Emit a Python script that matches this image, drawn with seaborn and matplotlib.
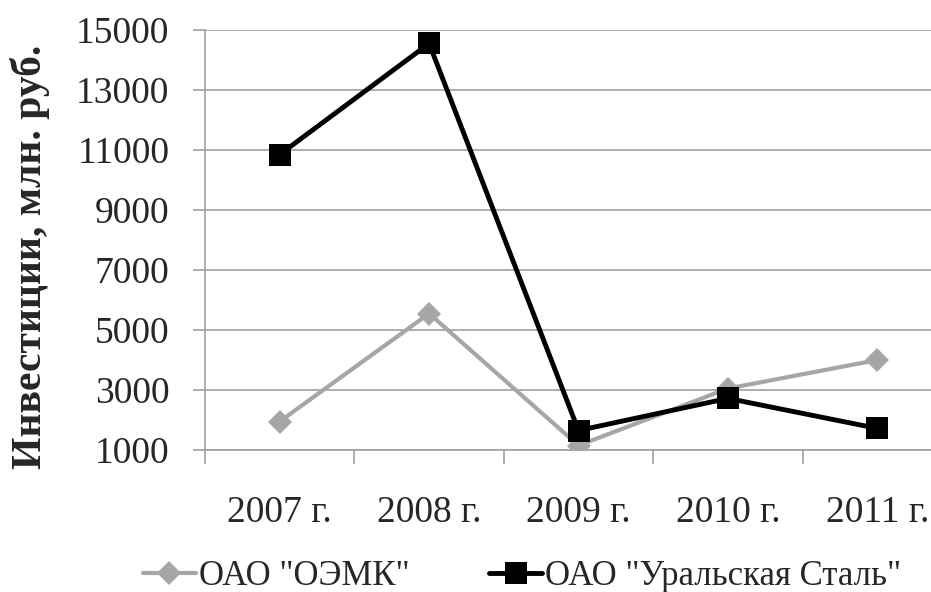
import matplotlib
matplotlib.use("Agg")
import matplotlib.pyplot as plt
import seaborn as sns
import pandas as pd
from matplotlib.ticker import FixedLocator

years = ["2007 г.", "2008 г.", "2009 г.", "2010 г.", "2011 г."]
oemk = [1950, 5550, 1150, 3050, 4000]
ural = [10850, 14550, 1650, 2720, 1720]
series_names = ['ОАО "ОЭМК"', 'ОАО "Уральская Сталь"']
y_ticks = [1000, 3000, 5000, 7000, 9000, 11000, 13000, 15000]
y_label = "Инвестиции, млн. руб."

sns.set_style("white")
plt.rcParams["font.family"] = ["Liberation Serif", "DejaVu Serif"]

df = pd.DataFrame({
    "year": years * 2,
    "value": oemk + ural,
    "company": [series_names[0]] * len(years) + [series_names[1]] * len(years),
})

fig = plt.figure(figsize=(9.31, 5.92), dpi=100)
ax = fig.add_axes([205 / 931, 142 / 592, 747 / 931, 420 / 592])

grid_c = "#a0a0a0"
gray = "#a6a6a6"

sns.lineplot(data=df[df.company == series_names[0]], x="year", y="value",
             color=gray, lw=3.0, marker="D", markersize=12.5, mec=gray, mew=0,
             label=series_names[0], ax=ax, sort=False, zorder=3)
sns.lineplot(data=df[df.company == series_names[1]], x="year", y="value",
             color="black", lw=3.5, marker="s", markersize=15.5, mec="black", mew=0,
             label=series_names[1], ax=ax, sort=False, zorder=4)

ax.set_xlim(-0.5, 4.5)
ax.set_ylim(1000, 15000)
ax.set_yticks(y_ticks)
ax.set_yticklabels([str(v) for v in y_ticks], fontsize=27)
ax.set_xticks(range(len(years)))
ax.set_xticklabels(years, fontsize=27)
ax.xaxis.set_minor_locator(FixedLocator([i - 0.5 for i in range(len(years) + 1)]))

ax.tick_params(axis="x", which="major", length=0, pad=33)
ax.tick_params(axis="x", which="minor", length=10, width=1.2, color=grid_c, direction="out", bottom=True)
ax.tick_params(axis="y", which="major", length=8.6, width=1.2, color=grid_c, direction="out", pad=17, left=True)

ax.yaxis.grid(True, color=grid_c, lw=1.2)
ax.xaxis.grid(False)
ax.set_axisbelow(True)
for s in ["top", "right"]:
    ax.spines[s].set_visible(False)
for s in ["left", "bottom"]:
    ax.spines[s].set_color(grid_c)
    ax.spines[s].set_linewidth(1.2)

ax.set_xlabel("")
ax.set_ylabel(y_label, fontsize=30, fontweight="bold")
ax.yaxis.set_label_coords(-0.2075, 0.46)

ax.legend(loc="center", bbox_to_anchor=(0.561, 0.026), bbox_transform=fig.transFigure,
          ncol=2, frameon=False, fontsize=25, handlelength=1.5, handletextpad=0.1,
          columnspacing=2.3, borderaxespad=0, borderpad=0)

fig.savefig("out.png", dpi=100)
